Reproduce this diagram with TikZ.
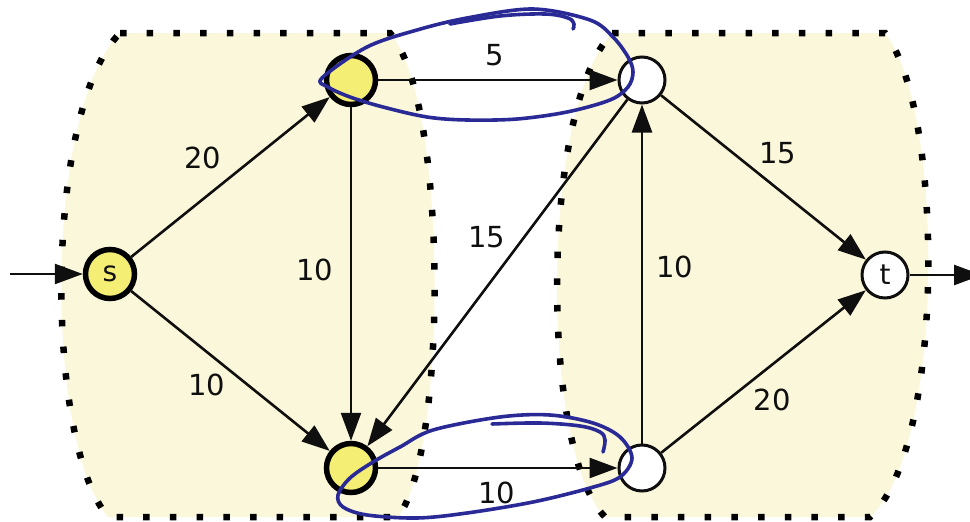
\documentclass[tikz,border=0pt]{standalone}
\usepackage{fontspec}
\setmainfont{DejaVu Sans}
\usetikzlibrary{arrows.meta}
\definecolor{regionfill}{RGB}{250,247,218}
\definecolor{nodeyellow}{RGB}{245,238,117}
\definecolor{penblue}{RGB}{42,42,150}
\definecolor{ink}{RGB}{15,15,15}
\begin{document}
\begin{tikzpicture}[x=1pt,y=-1pt,
  region/.style={fill=regionfill},
  regionborder/.style={draw=black,line width=6.5pt,dash pattern=on 6.5pt off 20.2pt},
  cutnode/.style={circle,draw=black,fill=nodeyellow,line width=5.5pt,minimum size=49pt,inner sep=0pt,text=ink,font=\fontsize{28}{28}\selectfont},
  plainnode/.style={circle,draw=ink,fill=white,line width=3pt,minimum size=46pt,inner sep=0pt,text=ink,font=\fontsize{28}{28}\selectfont},
  edge/.style={draw=ink,line width=2.6pt,-{Triangle[length=28pt,width=20pt]}},
  weight/.style={text=ink,inner sep=0pt,font=\fontsize{29}{29}\selectfont},
  scribble/.style={draw=penblue,line width=3.6pt,line cap=round,line join=round},
]
\useasboundingbox (0,0) rectangle (970,522);
% regions
\path[region] (120,33) -- (390,33) .. controls (448,100) and (448,450) .. (398,517) -- (108,517) .. controls (44,440) and (44,110) .. (120,33) -- cycle;
\path[region] (612,33) -- (885,33) .. controls (945,110) and (945,450) .. (870,517) -- (605,517) .. controls (540,450) and (540,110) .. (612,33) -- cycle;
\draw[regionborder] (120,33) -- (390,33) .. controls (448,100) and (448,450) .. (398,517) -- (108,517) .. controls (44,440) and (44,110) .. (120,33);
\draw[regionborder] (612,33) -- (885,33) .. controls (945,110) and (945,450) .. (870,517) -- (605,517) .. controls (540,450) and (540,110) .. (612,33);
% nodes
\node[cutnode] (s) at (110,274) {s};
\node[cutnode] (a) at (351,80) {};
\node[cutnode] (b) at (351,468) {};
\node[plainnode] (c) at (642,80) {};
\node[plainnode] (d) at (642,468) {};
\node[plainnode] (t) at (885,275) {t};
\coordinate (in) at (10,274);
\coordinate (out) at (982,275);
% edges
\draw[edge] (in) -- (s);
\draw[edge] (s) -- (a);
\draw[edge] (s) -- (b);
\draw[edge] (a) -- (b);
\draw[edge] (a) -- (c);
\draw[edge] (c) -- (b);
\draw[edge] (b) -- (d);
\draw[edge] (d) -- (c);
\draw[edge] (c) -- (t);
\draw[edge] (d) -- (t);
\draw[edge] (t) -- (out);
% weights
\node[weight] (w1) at (203,158) {20};
\node[weight] (w2) at (207,385) {10};
\node[weight] (w3) at (315,270) {10};
\node[weight] (w4) at (495,55) {5};
\node[weight] (w5) at (487,237) {15};
\node[weight] (w6) at (497,493) {10};
\node[weight] (w7) at (675,267) {10};
\node[weight] (w8) at (778,153) {15};
\node[weight] (w9) at (772,400) {20};
% hand-drawn loops
\draw[scribble] plot[smooth cycle,tension=0.55] coordinates {(322,78) (367,47) (417,30) (467,18) (533,9) (590,20) (613,37) (628,57) (633,72) (628,87) (610,100) (567,112) (517,119) (467,120) (427,117) (383,107) (350,97) (328,87)};
\draw[scribble] plot[smooth,tension=0.6] coordinates {(450,24) (500,16) (545,14) (568,18) (574,24) (573,29)};
\draw[scribble] plot[smooth cycle,tension=0.55] coordinates {(338,495) (350,478) (373,462) (400,447) (433,430) (500,417) (550,415) (593,423) (620,437) (632,458) (620,477) (590,488) (533,502) (467,513) (417,518) (367,515) (343,507)};
\draw[scribble] plot[smooth,tension=0.6] coordinates {(492,424) (540,423) (580,426) (600,432) (605,440) (603,452)};
\end{tikzpicture}
\end{document}
